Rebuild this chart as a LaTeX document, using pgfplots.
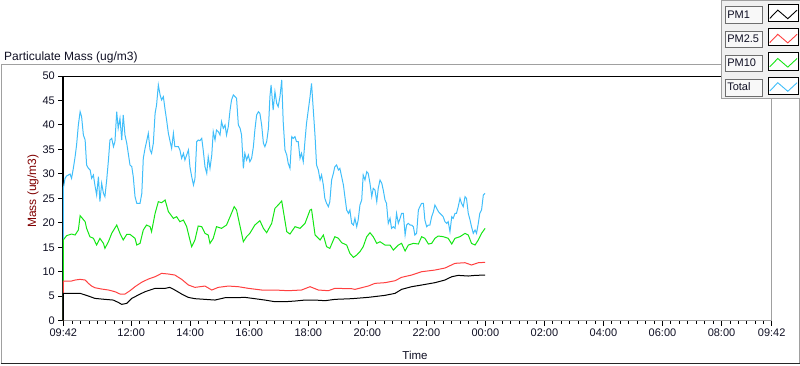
\documentclass[border=0pt]{standalone}
\usepackage{pgfplots}
\pgfplotsset{compat=1.18}
\usepackage{pgfplotstable}
\usepackage{fontspec}
\setmainfont{Liberation Sans}
\definecolor{cTotal}{RGB}{64,190,250}
\definecolor{cPMten}{RGB}{20,230,20}
\definecolor{cPMtwo}{RGB}{255,64,64}
\definecolor{framegray}{RGB}{160,160,160}
\definecolor{legbg}{RGB}{240,240,240}
\definecolor{labbg}{RGB}{248,248,248}
\definecolor{labedge}{RGB}{110,110,110}
\definecolor{ylab}{RGB}{128,0,0}
\definecolor{txt}{RGB}{15,15,35}

\pgfplotstableread{
h v
9.70 0
9.70 5.59
10.27 5.59
10.55 5.04
10.77 4.56
11.11 4.36
11.39 4.22
11.56 3.75
11.68 3.34
11.85 3.54
12.02 4.56
12.24 5.25
12.47 5.93
12.81 6.61
13.15 6.61
13.31 6.81
13.48 6.27
13.71 5.45
13.93 4.77
14.16 4.50
14.50 4.36
14.84 4.22
15.18 4.70
15.52 4.70
15.85 4.77
16.19 4.50
16.53 4.22
16.87 3.88
17.21 3.88
17.55 4.02
17.89 4.22
18.23 4.22
18.57 4.09
18.90 4.36
19.47 4.50
20.03 4.77
20.60 5.18
20.94 5.59
21.16 6.40
21.50 6.95
21.84 7.29
22.29 7.77
22.63 8.31
22.86 8.99
23.08 9.26
23.42 9.13
23.65 9.26
23.99 9.33
}\pmone

\pgfplotstableread{
h v
9.70 0
9.70 8.11
9.98 8.11
10.10 8.31
10.27 8.45
10.44 8.31
10.55 7.63
10.66 7.08
10.77 6.74
11.00 6.47
11.23 6.27
11.45 5.93
11.62 5.45
11.79 5.45
11.96 6.13
12.13 6.95
12.35 7.83
12.58 8.51
12.81 8.99
13.03 9.67
13.26 9.54
13.48 9.33
13.71 8.45
13.94 7.29
14.16 6.81
14.50 7.08
14.73 6.27
14.95 6.81
15.29 7.08
15.63 6.95
15.97 6.61
16.42 6.27
16.87 6.27
17.32 6.13
17.77 6.27
18.06 6.95
18.34 6.27
18.68 6.13
18.90 6.61
19.47 6.54
19.58 6.40
20.03 7.08
20.26 7.63
20.60 7.77
20.94 8.17
21.16 8.86
21.50 9.33
21.84 10.01
22.29 10.35
22.63 10.76
22.97 11.72
23.31 11.85
23.53 11.38
23.76 11.85
23.99 11.92
}\pmtwo

\pgfplotstableread{
h v
9.70 0
9.70 16.49
9.81 17.37
9.98 17.71
10.10 17.51
10.21 18.53
10.27 21.46
10.44 20.23
10.49 18.87
10.60 17.17
10.72 16.83
10.83 15.46
10.94 16.83
11.06 15.80
11.11 14.78
11.23 16.14
11.34 17.85
11.51 19.55
11.62 17.85
11.73 16.49
11.85 17.64
11.96 17.64
12.13 16.83
12.19 15.46
12.30 15.80
12.41 18.53
12.52 19.55
12.64 19.21
12.69 18.19
12.81 21.93
12.92 24.32
13.03 24.11
13.15 24.66
13.26 22.28
13.43 20.91
13.54 21.25
13.65 20.23
13.77 20.57
13.88 19.21
13.99 16.49
14.05 15.12
14.16 16.50
14.27 19.35
14.39 19.21
14.50 17.85
14.61 17.51
14.67 15.80
14.78 16.83
14.89 19.21
15.06 18.87
15.23 19.55
15.35 21.25
15.49 23.30
15.57 22.62
15.63 20.91
15.74 17.85
15.80 16.14
15.91 17.17
16.02 17.85
16.19 19.55
16.36 20.44
16.48 18.87
16.59 17.98
16.76 19.89
16.87 22.96
16.98 23.64
17.10 24.46
17.15 22.62
17.27 18.19
17.38 17.71
17.55 19.21
17.72 18.87
17.89 19.89
18.06 22.62
18.11 22.75
18.23 17.51
18.40 16.49
18.51 17.51
18.62 15.12
18.73 14.78
18.85 16.49
18.90 17.17
19.02 16.83
19.13 15.94
19.30 15.46
19.41 13.76
19.53 12.94
19.64 13.42
19.75 14.10
19.86 15.12
19.98 17.17
20.09 17.98
20.20 17.17
20.32 15.80
20.43 16.14
20.60 15.46
20.77 15.46
20.88 14.44
21.05 15.46
21.16 15.80
21.28 14.24
21.39 15.46
21.56 15.80
21.73 15.67
21.84 17.17
21.95 16.83
22.07 15.67
22.18 15.80
22.29 16.83
22.40 17.30
22.57 17.17
22.74 16.83
22.86 15.67
22.97 16.83
23.14 17.17
23.31 17.85
23.42 17.51
23.53 15.80
23.65 15.46
23.76 16.49
23.87 17.85
23.99 18.87
}\pmten

\pgfplotstableread{
h v
9.70 0
9.70 27.04
9.76 29.09
9.81 29.56
9.93 29.97
9.98 29.09
10.04 31.13
10.10 33.51
10.15 35.90
10.21 39.99
10.27 42.71
10.32 41.69
10.38 37.94
10.44 36.92
10.49 31.81
10.55 31.13
10.61 30.79
10.66 29.09
10.72 29.77
10.77 27.72
10.83 25.68
10.89 29.43
10.94 24.32
11.00 28.07
11.06 26.02
11.11 25.34
11.17 28.75
11.23 32.83
11.28 36.92
11.34 37.26
11.40 35.56
11.45 36.58
11.51 42.71
11.56 39.31
11.62 41.35
11.68 36.92
11.73 42.03
11.79 37.94
11.85 36.24
11.96 31.81
12.02 31.47
12.07 29.43
12.13 25.34
12.19 23.98
12.30 23.98
12.36 26.02
12.41 33.17
12.47 35.22
12.52 36.58
12.58 38.28
12.64 34.88
12.69 34.20
12.75 36.24
12.81 42.37
12.86 44.07
12.92 48.16
12.98 46.12
13.03 45.10
13.09 45.78
13.15 43.05
13.20 41.01
13.26 38.28
13.32 36.58
13.37 35.22
13.43 38.28
13.48 35.56
13.60 35.56
13.65 34.88
13.71 33.17
13.77 34.20
13.82 32.83
13.94 34.88
13.99 31.47
14.05 29.43
14.11 27.72
14.16 29.00
14.22 36.58
14.27 36.92
14.33 36.78
14.39 37.26
14.44 34.88
14.50 31.47
14.56 30.11
14.61 33.51
14.67 31.13
14.73 33.86
14.78 38.62
14.84 36.92
14.89 38.96
14.95 38.62
15.01 37.94
15.06 40.67
15.12 39.31
15.18 39.99
15.23 37.94
15.29 39.65
15.35 43.05
15.40 45.10
15.46 46.12
15.52 45.78
15.57 45.44
15.63 39.99
15.69 39.31
15.74 37.94
15.80 31.13
15.85 34.20
15.91 32.83
15.97 33.86
16.02 32.49
16.08 33.17
16.14 35.56
16.19 38.96
16.25 42.03
16.31 42.71
16.36 42.37
16.42 39.99
16.48 36.24
16.53 35.56
16.59 36.58
16.65 39.31
16.70 45.78
16.74 48.16
16.81 43.05
16.87 46.80
16.93 44.41
16.98 43.73
17.04 45.78
17.10 49.18
17.15 40.67
17.21 34.88
17.27 33.86
17.32 32.15
17.38 31.13
17.44 37.60
17.49 37.26
17.55 37.60
17.60 36.58
17.66 36.58
17.72 33.17
17.77 34.20
17.83 32.49
17.89 36.92
17.94 40.33
18.00 43.05
18.06 45.78
18.11 48.50
18.17 43.05
18.23 37.60
18.28 31.81
18.34 30.79
18.40 28.75
18.45 29.77
18.51 27.72
18.56 25.00
18.62 23.98
18.68 23.30
18.73 24.32
18.79 28.75
18.85 30.11
18.90 31.47
18.96 31.81
19.02 30.79
19.07 31.13
19.13 29.43
19.19 27.72
19.24 25.34
19.30 22.62
19.36 21.93
19.41 22.62
19.47 19.89
19.53 19.55
19.58 20.91
19.64 19.21
19.69 20.57
19.75 23.64
19.81 24.66
19.86 29.77
19.92 28.75
19.98 30.45
20.03 30.11
20.09 28.07
20.15 25.34
20.20 27.04
20.26 26.70
20.32 24.32
20.37 27.04
20.43 28.75
20.49 28.07
20.54 26.70
20.60 24.66
20.65 23.98
20.71 19.89
20.77 20.91
20.82 18.87
20.88 19.21
20.94 18.87
20.99 21.93
21.05 19.89
21.11 20.91
21.16 21.93
21.22 21.93
21.28 17.51
21.33 19.55
21.39 19.89
21.45 19.55
21.50 19.55
21.56 19.21
21.61 17.51
21.67 17.85
21.73 22.62
21.78 23.30
21.84 23.98
21.90 23.98
21.95 20.57
22.01 19.21
22.07 19.55
22.12 19.55
22.18 21.25
22.24 22.28
22.29 23.64
22.35 22.96
22.41 22.28
22.46 21.93
22.52 21.59
22.57 21.25
22.63 20.23
22.69 19.89
22.74 20.23
22.80 18.19
22.86 21.25
22.91 20.91
22.97 21.93
23.02 21.93
23.08 23.30
23.14 25.00
23.19 23.98
23.25 23.30
23.31 25.34
23.36 25.00
23.42 21.93
23.48 20.57
23.53 19.21
23.59 17.85
23.65 18.53
23.70 17.85
23.76 19.89
23.81 21.93
23.87 22.62
23.93 25.68
23.99 26.02
}\total

\newcommand{\legbox}[1]{{\setlength{\fboxsep}{1.5pt}\setlength{\fboxrule}{0.8pt}\fcolorbox{labedge}{labbg}{\rule[-3.3pt]{0pt}{12.8pt}\makebox[33.7pt][l]{#1}}}}

\begin{document}
\begin{tikzpicture}
\useasboundingbox (0pt,0pt) rectangle (800pt,365pt);
\draw[framegray, line width=1pt] (1pt,2pt) -- (1pt,300pt) -- (799pt,300pt) -- (799pt,2pt);
\draw[black!85, line width=1pt] (0.5pt,2pt) -- (799.5pt,2pt);
\begin{axis}[
  scale only axis, width=708.4pt, height=244.7pt,
  at={(63.3pt,44.3pt)}, anchor=south west,
  xmin=9.7, xmax=33.7, ymin=0, ymax=50,
  axis lines*=left,
  x axis line style={-, framegray, line width=1pt},
  y axis line style={-, black, line width=1.6pt},
  tick align=outside,
  major tick length=5pt, minor tick length=3pt,
  tick style={black, line width=0.9pt},
  xtick={9.7,12,14,16,18,20,22,24,26,28,30,32,33.7},
  xticklabels={09:42,12:00,14:00,16:00,18:00,20:00,22:00,00:00,02:00,04:00,06:00,08:00,09:42},
  minor xtick={10,10.2857,10.5714,10.8571,11.1429,11.4286,11.7143,
    12.2857,12.5714,12.8571,13.1429,13.4286,13.7143,
    14.2857,14.5714,14.8571,15.1429,15.4286,15.7143,
    16.2857,16.5714,16.8571,17.1429,17.4286,17.7143,
    18.2857,18.5714,18.8571,19.1429,19.4286,19.7143,
    20.2857,20.5714,20.8571,21.1429,21.4286,21.7143,
    22.2857,22.5714,22.8571,23.1429,23.4286,23.7143,
    24.2857,24.5714,24.8571,25.1429,25.4286,25.7143,
    26.2857,26.5714,26.8571,27.1429,27.4286,27.7143,
    28.2857,28.5714,28.8571,29.1429,29.4286,29.7143,
    30.2857,30.5714,30.8571,31.1429,31.4286,31.7143,
    32.2857,32.5714,32.8571,33.1429,33.4286},
  ytick={0,5,...,50},
  tick label style={font=\fontsize{11}{13}\selectfont, text=txt},
  /pgf/number format/assume math mode=true,
  title={Particulate Mass (ug/m3)},
  title style={at={(axis description cs:-0.0837,1.0531)}, anchor=west, yshift=0pt, font=\fontsize{12}{14}\selectfont, inner sep=0pt, text=txt},
  xlabel={Time},
  xlabel style={at={(axis description cs:0.4965,-0.140)}, anchor=center, font=\fontsize{11.5}{13}\selectfont, text=txt},
  ylabel={Mass (ug/m3)},
  ylabel style={at={(axis description cs:-0.0428,0.530)}, anchor=center, font=\fontsize{12}{14}\selectfont, text=ylab},
  clip=false,
  reverse legend,
  legend plot pos=right,
  legend cell align=left,
  legend style={at={(axis description cs:0.9284,1.3106)}, anchor=north west,
    draw=framegray, fill=legbg, line width=1pt, inner sep=3.5pt,
    row sep=6.2pt, column sep=4.4pt,
    nodes={inner sep=0pt},
    font=\fontsize{11}{13}\selectfont, text=txt},
  legend image code/.code={
    \draw[draw=black, fill=white, line width=0.8pt, solid] (0pt,-8.6pt) rectangle (30.5pt,8.6pt);
    \draw[#1, line width=0.9pt] (1.7pt,-5.4pt) -- (9.7pt,2.9pt) -- (19.7pt,-5.7pt) -- (29pt,2.9pt);
  },
]
\addplot[cTotal, line width=1pt] table[x=h, y=v] {\total};
\addlegendentry{\legbox{Total}}
\addplot[cPMten, line width=1pt] table[x=h, y=v] {\pmten};
\addlegendentry{\legbox{PM10}}
\addplot[cPMtwo, line width=1pt] table[x=h, y=v] {\pmtwo};
\addlegendentry{\legbox{PM2.5}}
\addplot[black, line width=1pt] table[x=h, y=v] {\pmone};
\addlegendentry{\legbox{PM1}}
\draw[black, line width=1pt] (rel axis cs:0,1) -- (rel axis cs:1,1);
\draw[framegray, line width=1pt] (rel axis cs:1,0) -- (rel axis cs:1,1);
\end{axis}
\end{tikzpicture}
\end{document}
